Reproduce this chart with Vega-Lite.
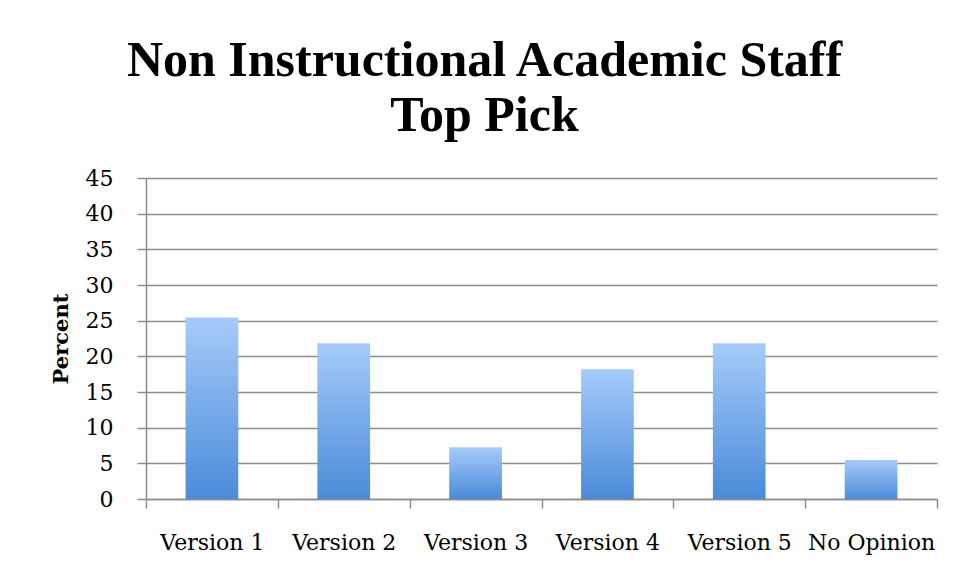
{
  "$schema": "https://vega.github.io/schema/vega-lite/v6.json",
  "autosize": "none",
  "width": 791,
  "height": 321,
  "padding": {"left": 146, "top": 178, "right": 18, "bottom": 78},
  "background": "white",
  "title": {
    "text": ["Non Instructional Academic Staff", "Top Pick"],
    "font": "Liberation Serif",
    "fontSize": 50,
    "fontWeight": "bold",
    "color": "black",
    "anchor": "middle",
    "dx": -57,
    "offset": 26,
    "lineHeight": 55
  },
  "data": {
    "values": [
      {"option": "Version 1", "percent": 25.45},
      {"option": "Version 2", "percent": 21.82},
      {"option": "Version 3", "percent": 7.27},
      {"option": "Version 4", "percent": 18.18},
      {"option": "Version 5", "percent": 21.82},
      {"option": "No Opinion", "percent": 5.45}
    ]
  },
  "mark": {
    "type": "bar",
    "width": {"band": 0.4},
    "color": {
      "gradient": "linear",
      "x1": 0, "y1": 0, "x2": 0, "y2": 1,
      "stops": [
        {"offset": 0, "color": "#a6cbfa"},
        {"offset": 1, "color": "#4a8bd8"}
      ]
    }
  },
  "encoding": {
    "x": {
      "field": "option",
      "type": "nominal",
      "sort": null,
      "scale": {"paddingInner": 0, "paddingOuter": 0},
      "axis": {
        "title": null,
        "labelAngle": 0,
        "labelFont": "DejaVu Serif",
        "labelFontSize": 22,
        "labelColor": "black",
        "labelPadding": 24,
        "tickBand": "extent",
        "tickSize": 9,
        "tickColor": "#8c8c8c",
        "tickWidth": 1.5,
        "domainColor": "#8c8c8c",
        "domainWidth": 1.5
      }
    },
    "y": {
      "field": "percent",
      "type": "quantitative",
      "scale": {"domain": [0, 45]},
      "axis": {
        "title": "Percent",
        "titleFont": "DejaVu Serif",
        "titleFontSize": 21,
        "titleFontWeight": "bold",
        "titleColor": "black",
        "titlePadding": 14,
        "values": [0, 5, 10, 15, 20, 25, 30, 35, 40, 45],
        "labelFont": "DejaVu Serif",
        "labelFontSize": 22,
        "labelColor": "black",
        "labelPadding": 24,
        "tickSize": 9,
        "tickColor": "#8c8c8c",
        "tickWidth": 1.5,
        "domainColor": "#8c8c8c",
        "domainWidth": 1.5,
        "gridColor": "#8c8c8c",
        "gridWidth": 1.5,
        "gridOpacity": 1
      }
    }
  },
  "config": {
    "view": {"stroke": null}
  }
}
